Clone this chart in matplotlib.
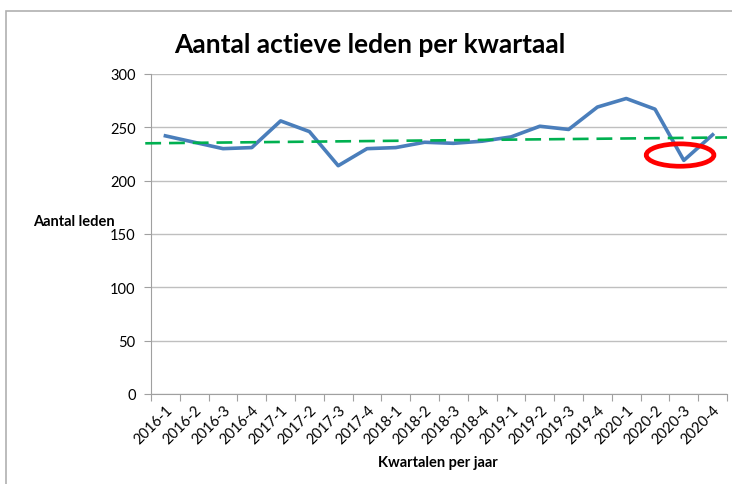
import matplotlib.pyplot as plt
from matplotlib.patches import Ellipse, Rectangle

plt.rcParams['font.family'] = ['Lato', 'DejaVu Sans']

quarters = ["2016-1", "2016-2", "2016-3", "2016-4", "2017-1", "2017-2", "2017-3", "2017-4",
            "2018-1", "2018-2", "2018-3", "2018-4", "2019-1", "2019-2", "2019-3", "2019-4",
            "2020-1", "2020-2", "2020-3", "2020-4"]
members = [242, 236, 230, 231, 256, 246, 214, 230,
           231, 236, 235, 237, 241, 251, 248, 269,
           277, 267, 219, 243]

# trend line (at left and right end)
trend_x = [-0.7, 19.5]
trend_y = [235, 240.5]

fig = plt.figure(figsize=(7.32, 4.85), dpi=100)
ax = fig.add_axes([0.2063, 0.1856, 0.7869, 0.6598])

x = range(len(quarters))
ax.plot(x, members, color='#4a7ebb', linewidth=2.6, zorder=3)
ax.plot(trend_x, trend_y, color='#00b050', linewidth=1.9, linestyle=(0, (6, 3)),
        clip_on=False, zorder=4)

# red circle around 2020-3
ax.add_patch(Ellipse((17.87, 224), 2.35, 21, fill=False, edgecolor='#ff0000',
                     linewidth=3.4, zorder=5))

ax.set_xlim(-0.5, 19.5)
ax.set_ylim(0, 300)
ax.set_yticks(range(0, 301, 50))
ax.grid(axis='y', color='#bfbfbf', linewidth=1)
ax.set_axisbelow(True)

ax.set_xticks([i + 0.5 for i in range(-1, 20)], minor=False)
ax.set_xticklabels([])
ax.set_xticks(list(x), minor=True)
ax.set_xticklabels(quarters, minor=True, rotation=45, ha='right', rotation_mode='anchor',
                   fontsize=10.5)
ax.tick_params(axis='x', which='minor', length=0, pad=6)
ax.tick_params(axis='x', which='major', length=5, color='#a0a0a0')
ax.tick_params(axis='y', length=5, color='#a0a0a0', labelsize=10.5, pad=6)

for s in ['top', 'right']:
    ax.spines[s].set_visible(False)
for s in ['left', 'bottom']:
    ax.spines[s].set_color('#a0a0a0')

fig.text(0.505, 0.907, "Aantal actieve leden per kwartaal", ha='center', va='center',
         fontsize=19, fontweight='bold')
fig.text(0.045, 0.542, "Aantal leden", ha='left', va='center', fontsize=10.5,
         fontweight='bold')
fig.text(0.598, 0.045, "Kwartalen per jaar", ha='center', va='center', fontsize=10.5,
         fontweight='bold')

# chart frame
fig.add_artist(Rectangle((0.008, -0.1), 1.1, 1.075, transform=fig.transFigure,
                         fill=False, edgecolor='#b0b0b0', linewidth=1.2))

fig.savefig("out.png", dpi=100)
